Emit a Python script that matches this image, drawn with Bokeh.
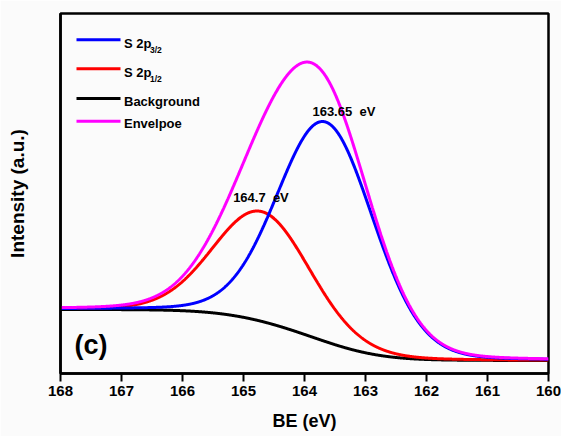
import numpy as np
from bokeh.plotting import figure
from bokeh.models import Range1d, Label, FixedTicker
from bokeh.embed import file_html
from bokeh.resources import INLINE

# Fitted S 2p doublet: centres (eV), heights above background, widths
component_centers = [163.65, 164.7]
component_heights = [61.0, 30.5]
component_fwhm = [1.86, 1.86]
component_lorentz = [0.1, 0.1]
component_colors = ["#0000ff", "#ff0000"]

# Shirley background levels at the high- and low-BE ends
background_high = 17.8
background_low = 3.6

be_ticks = [168, 167, 166, 165, 164, 163, 162, 161, 160]
peak_label_texts = ["163.65\u00a0\u00a0eV", "164.7\u00a0\u00a0eV"]

FONT = "Liberation Sans"
W, H = 561, 436
LEFT, RIGHT, TOP, BOTTOM = 60, 13, 13, 63
X0, X1 = 168.0, 160.0
Y0, Y1 = 0.0, 100.0
FW = W - LEFT - RIGHT
FH = H - TOP - BOTTOM


def px_x(dx):
    """Data x for a pixel offset from the frame's left edge."""
    return X0 + (X1 - X0) * dx / FW


def px_y(dy):
    """Data y for a pixel offset from the frame's top edge."""
    return Y1 - (Y1 - Y0) * dy / FH


def pseudo_voigt(e, c, h, w, eta):
    t = (e - c) / w
    g = np.exp(-4 * np.log(2) * t ** 2)
    lor = 1.0 / (1.0 + 4 * t ** 2)
    return h * ((1 - eta) * g + eta * lor)


be = np.linspace(X0, X1, 1601)
comps = [pseudo_voigt(be, c, h, w, eta) for c, h, w, eta in
         zip(component_centers, component_heights, component_fwhm, component_lorentz)]
net = comps[0] + comps[1]
# Shirley step: proportional to peak area on the low-BE side
area_right = np.cumsum(net[::-1])[::-1]
background = background_low + (background_high - background_low) * area_right / area_right[0]
envelope = background + net

p = figure(width=W, height=H, x_range=Range1d(X0, X1), y_range=Range1d(Y0, Y1),
           output_backend="svg", toolbar_location=None,
           min_border_left=LEFT, min_border_right=RIGHT,
           min_border_top=TOP, min_border_bottom=BOTTOM)

bg_col = "#fbfbfb"
p.background_fill_color = bg_col
p.border_fill_color = bg_col
p.outline_line_color = "black"
p.outline_line_width = 2.5
p.grid.visible = False

xa = p.xaxis[0]
xa.ticker = FixedTicker(ticks=be_ticks)
xa.axis_label = "BE (eV)"
xa.axis_label_text_font = FONT
xa.axis_label_text_font_size = "18px"
xa.axis_label_text_font_style = "bold"
xa.axis_label_text_color = "black"
xa.axis_label_standoff = 12
xa.major_label_text_font = FONT
xa.major_label_text_font_size = "15px"
xa.major_label_text_font_style = "bold"
xa.major_label_text_color = "black"
xa.major_label_standoff = 4
xa.major_tick_in = 0
xa.major_tick_out = 8
xa.major_tick_line_width = 2
xa.major_tick_line_color = "black"
xa.minor_tick_line_color = None
xa.axis_line_width = 2.5
xa.axis_line_color = "black"

ya = p.yaxis[0]
ya.ticker = FixedTicker(ticks=[])
ya.axis_label = "Intensity (a.u.)"
ya.axis_label_text_font = FONT
ya.axis_label_text_font_size = "19px"
ya.axis_label_text_font_style = "bold"
ya.axis_label_text_color = "black"
ya.axis_label_standoff = 33
ya.major_tick_line_color = None
ya.minor_tick_line_color = None
ya.major_label_standoff = 0
ya.axis_line_width = 2.5
ya.axis_line_color = "black"

lw = 3
p.line(be, background, line_color="black", line_width=lw)
p.line(be, comps[1] + background, line_color=component_colors[1], line_width=lw)
p.line(be, comps[0] + background, line_color=component_colors[0], line_width=lw)
p.line(be, envelope, line_color="#ff00ff", line_width=lw)

# Legend drawn by hand so the subscripts can be typeset
legend_rows = [("S 2p", "3/2", component_colors[0], 26.3, 29.7),
               ("S 2p", "1/2", component_colors[1], 55.3, 58.7),
               ("Background", None, "black", 85.0, 87.7),
               ("Envelpoe", None, "#ff00ff", 107.7, 110.3)]
for text, sub, col, line_dy, base_dy in legend_rows:
    p.segment(x0=px_x(16), x1=px_x(60), y0=px_y(line_dy), y1=px_y(line_dy),
              line_color=col, line_width=lw)
    p.add_layout(Label(x=px_x(63.5), y=px_y(base_dy), text=text,
                       text_font=FONT, text_font_size="13px", text_font_style="bold",
                       text_baseline="alphabetic", text_color="black"))
    if sub:
        p.add_layout(Label(x=px_x(89.5), y=px_y(base_dy + 6.5), text=sub,
                           text_font=FONT, text_font_size="8.5px", text_font_style="bold",
                           text_baseline="alphabetic", text_color="black"))

# Peak position labels above each component maximum
label_dx = [0.22, 0.47]
label_dy = [2.9, 3.8]
for c, comp, txt, dx, dy in zip(component_centers, comps, peak_label_texts, label_dx, label_dy):
    i = int(np.argmin(np.abs(be - c)))
    top = comp[i] + background[i]
    p.add_layout(Label(x=c + dx, y=top + dy, text=txt, text_font=FONT,
                       text_font_size="13px", text_font_style="bold",
                       text_baseline="alphabetic", text_color="black"))

p.add_layout(Label(x=px_x(14), y=px_y(331.5), text="(c)", text_font=FONT,
                   text_font_size="27px", text_font_style="bold",
                   text_baseline="alphabetic", text_color="black"))

open("out.html", "w").write(file_html(p, INLINE))
